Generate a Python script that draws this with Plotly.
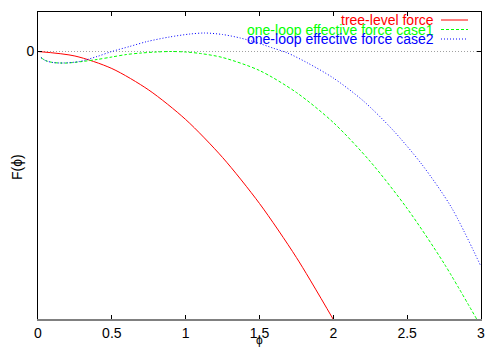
import plotly.graph_objects as go

# tree-level force
phi_tree = [0.0, 0.25, 0.5, 0.75, 1.0, 1.25, 1.5, 1.75, 2.0]
F_tree = [0.0, -0.045, -0.17, -0.385, -0.68, -1.06, -1.52, -2.06, -2.68]

# one-loop effective force case1
phi_c1 = [0.02, 0.05, 0.1, 0.15, 0.2, 0.3, 0.4, 0.5, 0.6, 0.7, 0.8, 0.9, 1.0, 1.1, 1.25, 1.5,
          1.75, 2.0, 2.25, 2.5, 2.75, 2.98]
F_c1 = [-0.06, -0.09, -0.11, -0.115, -0.115, -0.10, -0.08, -0.055, -0.03, -0.015, -0.005, 0.0,
        -0.005, -0.02, -0.06, -0.19, -0.41, -0.71, -1.10, -1.57, -2.12, -2.70]

# one-loop effective force case2
phi_c2 = [0.02, 0.05, 0.1, 0.17, 0.28, 0.4, 0.5, 0.62, 0.74, 0.89, 1.03, 1.13, 1.25, 1.37,
          1.48, 1.59, 1.69, 1.82, 2.0, 2.2, 2.4, 2.6, 2.8, 3.0]
F_c2 = [-0.06, -0.09, -0.11, -0.115, -0.10, -0.05, 0.0, 0.05, 0.10, 0.145, 0.175, 0.185,
        0.17, 0.135, 0.09, 0.035, -0.015, -0.11, -0.265, -0.49, -0.78, -1.13, -1.56, -2.15]

x_ticks = [0, 0.5, 1, 1.5, 2, 2.5, 3]
x_tick_labels = ["0", "0.5", "1", "1.5", "2", "2.5", "3"]
y_ticks = [0]
y_tick_labels = ["0"]

series_names = ["tree-level force", "one-loop effective force case1", "one-loop effective force case2"]
series_colors = ["#ff0000", "#00ff00", "#0000ff"]
series_dash = ["solid", "3px,2px", "1px,2px"]

FONT = "Liberation Sans, Arial, sans-serif"
FS = 14

# page body has an 8px default margin: plot area in the window is x 38..481, y 12..319
PX0, PX1, PY0, PY1 = 38, 481, 12, 319


def px_to_paper_x(px):
    return (px - PX0) / (PX1 - PX0)


def py_to_paper_y(py):
    return 1 - (py - PY0) / (PY1 - PY0)


fig = go.Figure()
for xs, ys, name, col, dash in zip([phi_tree, phi_c1, phi_c2], [F_tree, F_c1, F_c2],
                                   series_names, series_colors, series_dash):
    fig.add_trace(go.Scatter(x=xs, y=ys, mode="lines", name=name, line_shape="spline",
                             line=dict(color=col, width=1, dash=dash, smoothing=0.8),
                             showlegend=False))

# invisible trace to drive top axis
fig.add_trace(go.Scatter(x=[0, 3], y=[0, 0], xaxis="x2", mode="lines",
                         line=dict(width=0), showlegend=False, hoverinfo="skip"))

fig.update_layout(
    width=489, height=340,
    margin=dict(l=30, r=16, t=4, b=29),
    paper_bgcolor="white", plot_bgcolor="white",
    font=dict(family=FONT, size=FS, color="black"),
    xaxis=dict(range=[0, 3], tickvals=x_ticks, ticktext=x_tick_labels, ticks="inside",
               ticklen=4, tickcolor="black", showgrid=False, zeroline=False,
               showline=True, linecolor="#808080", linewidth=2, automargin=False),
    xaxis2=dict(range=[0, 3], overlaying="x", side="top", tickvals=x_ticks, ticks="inside",
                ticklen=4, tickcolor="black", showticklabels=False, showgrid=False,
                zeroline=False, showline=True, linecolor="black", linewidth=1,
                automargin=False),
    yaxis=dict(range=[-2.675, 0.395], tickvals=y_ticks, ticktext=y_tick_labels, ticks="inside",
               ticklen=4, tickcolor="black", showgrid=False, zeroline=False,
               showline=True, linecolor="black", linewidth=1, mirror="ticks",
               automargin=False),
)

# axis titles
fig.add_annotation(xref="paper", yref="paper", x=px_to_paper_x(259), y=py_to_paper_y(348),
                   text="ϕ", showarrow=False, xanchor="center", yanchor="bottom",
                   borderpad=0, font=dict(family=FONT, size=12, color="black"))
fig.add_annotation(xref="paper", yref="paper", x=px_to_paper_x(17), y=py_to_paper_y(167),
                   text="F(ϕ)", showarrow=False, xanchor="center", yanchor="middle",
                   textangle=-90, font=dict(family=FONT, size=FS, color="black"))

# dotted zero line
fig.add_shape(type="line", xref="paper", yref="y", x0=0, x1=1, y0=0, y1=0,
              line=dict(color="#a0a0a0", width=1, dash="1px,2px"), layer="below")

# gnuplot-style legend: right-aligned coloured text with line samples
legend_rows_y = [20, 29.5, 39]
for name, col, dash, py in zip(series_names, series_colors, series_dash, legend_rows_y):
    yp = py_to_paper_y(py)
    fig.add_annotation(xref="paper", yref="paper", x=px_to_paper_x(436), y=yp, text=name,
                       showarrow=False, xanchor="right", yanchor="middle",
                       font=dict(family=FONT, size=FS, color=col))
    fig.add_shape(type="line", xref="paper", yref="paper",
                  x0=px_to_paper_x(441), x1=px_to_paper_x(468), y0=yp, y1=yp,
                  line=dict(color=col, width=1, dash=dash))

fig.write_html("out.html")
